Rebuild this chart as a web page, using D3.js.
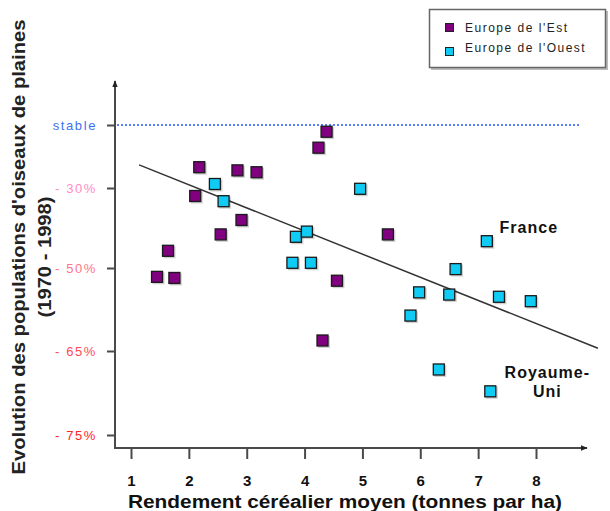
<!DOCTYPE html>
<html><head><meta charset="utf-8">
<script src="https://cdn.jsdelivr.net/npm/d3@7"></script>
<style>
html,body{margin:0;padding:0;background:#fff;}
svg{display:block;font-family:"Liberation Sans",Arial,sans-serif;}
</style></head>
<body>
<svg id="chart" width="610" height="511"></svg>
<script>
// Data
const eastX = [4.38, 4.24, 2.18, 2.84, 3.17, 2.11, 2.91, 2.55, 1.64, 1.45, 1.75, 4.56, 5.44, 4.31];
const eastY = [-3.2, -10.8, -20.1, -21.6, -22.5, -32, -38, -41.6, -45.7, -51.6, -51.8, -52.3, -41.6, -63.1];
const westX = [2.45, 2.60, 3.85, 4.04, 3.79, 4.11, 4.96, 7.15, 6.61, 5.98, 6.50, 7.36, 7.91, 5.83, 6.32, 7.21];
const westY = [-28.1, -33.3, -42.2, -40.9, -48.7, -48.7, -30.2, -43.3, -50.2, -54.4, -54.8, -55.2, -56.0, -58.6, -67.2, -69.8];
const trendX = [1.14, 9.07];
const trendY = [-19, -64.5];
const yTickValues = [0, -30, -50, -65, -75];
const yTickLabels = ["stable", "- 30%", "- 50%", "- 65%", "- 75%"];
const yTickColors = ["#3f6ff0", "#ff8cc6", "#ff7488", "#ff4a55", "#ff2424"];
const xTickValues = [1, 2, 3, 4, 5, 6, 7, 8];
const seriesNames = ["Europe de l'Est", "Europe de l'Ouest"];
const seriesColors = ["#800080", "#10ccf4"];
const annotations = [
  {lines: ["France"], x: 7.15, y: -43.3},
  {lines: ["Royaume-", "Uni"], x: 7.21, y: -69.8}
];

const svg = d3.select("#chart");
const x = d3.scaleLinear().domain([1, 8]).range([131, 536]);
const y = d3.scaleLinear().domain(yTickValues).range([125, 188, 268, 351, 435]);
const axisColor = "#4a4a4a";

// arrow markers
const defs = svg.append("defs");
defs.append("marker").attr("id", "arr").attr("viewBox", "0 0 10 10")
  .attr("refX", 9).attr("refY", 5).attr("markerWidth", 7).attr("markerHeight", 7)
  .attr("markerUnits", "userSpaceOnUse").attr("orient", "auto")
  .append("path").attr("d", "M0,1 L10,5 L0,9 Z").attr("fill", "#222");

// y axis
const y0 = 115, xAxisY = 448;
svg.append("line").attr("x1", y0).attr("x2", y0).attr("y1", xAxisY).attr("y2", 81)
  .attr("stroke", axisColor).attr("stroke-width", 2).attr("marker-end", "url(#arr)");
// x axis
svg.append("line").attr("x1", y0 - 1).attr("x2", 587).attr("y1", xAxisY).attr("y2", xAxisY)
  .attr("stroke", axisColor).attr("stroke-width", 2).attr("marker-end", "url(#arr)");

// y ticks
const yAxisG = svg.append("g").attr("transform", `translate(${y0},0)`)
  .call(d3.axisLeft(y).tickValues(yTickValues).tickSize(8).tickFormat((d, i) => yTickLabels[i]).tickPadding(10));
yAxisG.select(".domain").remove();
yAxisG.selectAll(".tick line").attr("stroke", axisColor).attr("stroke-width", 2);
yAxisG.selectAll(".tick text")
  .attr("fill", (d, i) => yTickColors[i])
  .style("font-size", "13px").style("letter-spacing", "1.6px")
  .style("font-family", "'Liberation Sans',Arial,sans-serif");

// x ticks
const xAxisG = svg.append("g").attr("transform", `translate(0,${xAxisY})`)
  .call(d3.axisBottom(x).tickValues(xTickValues).tickSize(11).tickFormat(d3.format("d")).tickPadding(16));
xAxisG.select(".domain").remove();
xAxisG.selectAll(".tick line").attr("stroke", axisColor).attr("stroke-width", 2);
xAxisG.selectAll(".tick text").attr("fill", "#111")
  .style("font-size", "15px").style("font-weight", "bold")
  .style("font-family", "'Liberation Sans',Arial,sans-serif");

// stable dotted line
svg.append("line").attr("x1", y0 + 2).attr("x2", 580).attr("y1", y(0)).attr("y2", y(0))
  .attr("stroke", "#5a7cff").attr("stroke-width", 2).attr("stroke-dasharray", "2,2");

// trend line
svg.append("line")
  .attr("x1", x(trendX[0])).attr("y1", y(trendY[0]))
  .attr("x2", x(trendX[1])).attr("y2", y(trendY[1]))
  .attr("stroke", "#333").attr("stroke-width", 1.5);

// points
const sz = 11;
function drawSeries(xs, ys, color) {
  const data = xs.map((v, i) => ({x: v, y: ys[i]}));
  const g = svg.append("g");
  g.selectAll("rect.sh").data(data).join("rect")
    .attr("x", d => x(d.x) - sz / 2 + 1).attr("y", d => y(d.y) - sz / 2 + 1)
    .attr("width", sz + 1).attr("height", sz + 1).attr("fill", "#000").attr("opacity", 0.18);
  g.selectAll("rect.pt").data(data).join("rect")
    .attr("x", d => x(d.x) - sz / 2).attr("y", d => y(d.y) - sz / 2)
    .attr("width", sz).attr("height", sz)
    .attr("fill", color).attr("stroke", "#1a1a1a").attr("stroke-width", 1.3);
}
drawSeries(eastX, eastY, seriesColors[0]);
drawSeries(westX, westY, seriesColors[1]);

// annotations
const annPos = [{dx: 0, dy: 0}, {dx: 0, dy: 0}];
svg.append("text").attr("x", x(annotations[0].x) + 42).attr("y", y(annotations[0].y) - 8)
  .attr("text-anchor", "middle").attr("font-size", 16).attr("font-weight", "bold")
  .style("letter-spacing", "1px").attr("fill", "#111").text(annotations[0].lines[0]);
annotations[1].lines.forEach((t, i) => {
  svg.append("text").attr("x", x(annotations[1].x) + 57).attr("y", y(annotations[1].y) - 13 + i * 19)
    .attr("text-anchor", "middle").attr("font-size", 16).attr("font-weight", "bold")
    .style("letter-spacing", "1px").attr("fill", "#111").text(t);
});

// axis titles
svg.append("text").attr("transform", "translate(25,247) rotate(-90)")
  .attr("text-anchor", "middle").attr("font-size", 18).attr("font-weight", "bold")
  .attr("fill", "#222").attr("textLength", 455).attr("lengthAdjust", "spacingAndGlyphs")
  .text("Evolution des populations d'oiseaux de plaines");
svg.append("text").attr("transform", "translate(51,257) rotate(-90)")
  .attr("text-anchor", "middle").attr("font-size", 18).attr("font-weight", "bold")
  .attr("fill", "#222").attr("textLength", 121).attr("lengthAdjust", "spacingAndGlyphs")
  .text("(1970 - 1998)");
svg.append("text").attr("x", 345).attr("y", 508)
  .attr("text-anchor", "middle").attr("font-size", 18).attr("font-weight", "bold")
  .attr("fill", "#111").attr("textLength", 434).attr("lengthAdjust", "spacingAndGlyphs")
  .text("Rendement céréalier moyen (tonnes par ha)");

// legend
const lg = svg.append("g");
lg.append("rect").attr("x", 431).attr("y", 11).attr("width", 177).attr("height", 59).attr("fill", "#bbb");
lg.append("rect").attr("x", 429.5).attr("y", 9.5).attr("width", 176).attr("height", 58)
  .attr("fill", "#fff").attr("stroke", "#666").attr("stroke-width", 1.5);
seriesNames.forEach((n, i) => {
  lg.append("rect").attr("x", 445.5).attr("y", 23.5 + i * 24).attr("width", 8).attr("height", 8)
    .attr("fill", seriesColors[i]).attr("stroke", "#222").attr("stroke-width", 1);
  lg.append("text").attr("x", 465).attr("y", 32 + i * 20).attr("font-size", 12)
    .style("letter-spacing", "1.5px").attr("fill", "#222").text(n);
});
</script>
</body></html>
